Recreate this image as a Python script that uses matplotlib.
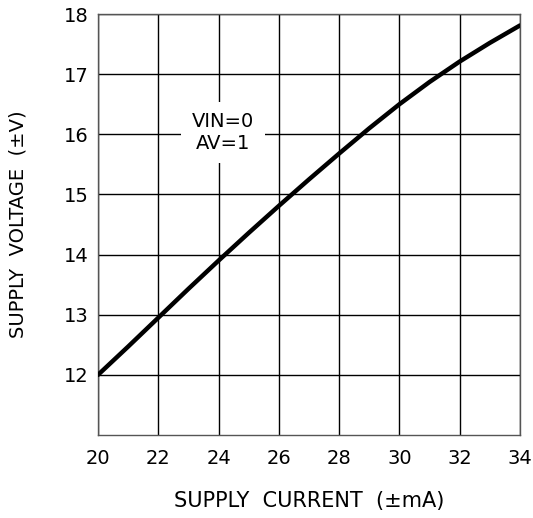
import matplotlib
matplotlib.use("Agg")
import matplotlib.pyplot as plt

# Data
supply_current = [20, 21, 22, 23, 24, 25, 26, 27, 28, 29, 30, 31, 32, 33, 34]
supply_voltage = [12.00, 12.47, 12.95, 13.43, 13.90, 14.36, 14.81, 15.25, 15.68,
                  16.10, 16.50, 16.87, 17.21, 17.52, 17.81]
x_ticks = [20, 22, 24, 26, 28, 30, 32, 34]
y_ticks = [12, 13, 14, 15, 16, 17, 18]
x_label = "SUPPLY  CURRENT  (±mA)"
y_label = "SUPPLY  VOLTAGE  (±V)"
note = "VIN=0\nAV=1"

plt.rcParams['font.family'] = ['DejaVu Sans']

fig = plt.figure(figsize=(5.33, 5.18), dpi=100)
ax = fig.add_axes([98/533, 1-435/518, 422/533, 421/518])

ax.set_xlim(20, 34)
ax.set_ylim(11, 18)
ax.set_xticks(x_ticks)
ax.set_yticks(y_ticks)
ax.grid(True, color='black', linewidth=1.0)
ax.set_axisbelow(True)
for s in ax.spines.values():
    s.set_color('#555555')
    s.set_linewidth(1.0)
ax.tick_params(length=0, labelsize=14, colors='black')
ax.tick_params(axis='x', pad=10)
ax.tick_params(axis='y', pad=7)

ax.plot(supply_current, supply_voltage, color='black', linewidth=3.2,
        solid_capstyle='round', solid_joinstyle='round', zorder=3)

ax.text(24.15, 16.03, note, ha='center', va='center', fontsize=14,
        linespacing=1.15, zorder=4,
        bbox=dict(boxstyle='square,pad=0.55', facecolor='white', edgecolor='none'))

ax.set_xlabel(x_label, fontsize=15, labelpad=17)
ax.set_ylabel(y_label, fontsize=14, labelpad=26)

fig.savefig("out.png", dpi=100, facecolor='white')
